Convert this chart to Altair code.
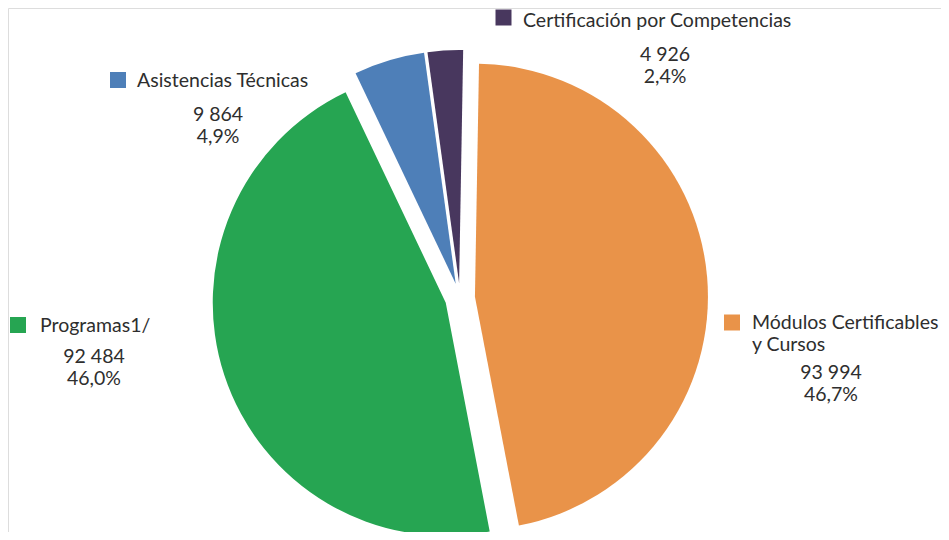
import altair as alt
import pandas as pd

# ---- data ----
categories = ["Módulos Certificables\ny Cursos", "Programas1/", "Asistencias Técnicas", "Certificación por Competencias"]
values = [93994, 92484, 9864, 4926]
colors = ["#E99349", "#26A552", "#4E7FB8", "#48375E"]

total = sum(values)
num_labels = [f"{v:,}".replace(",", " ") for v in values]
pct_labels = [f"{v / total * 100:.1f}".replace(".", ",") + "%" for v in values]

# ---- layout (chart pixel coordinates, not data) ----
W, H = 933, 524
CX, CY = 452, 290          # pie centre
R = 233                    # pie radius
EXPLODE = 15               # radial explode distance
START = 0.01745            # start angle (rad)
FONT = "Lato"
FS = 19.5
TXT = "#2e2e2e"

# legend-style annotation positions
sq_x = [724, 10, 110, 495.5]
sq_y = [314.5, 317, 72, 9.5]
name_x = [744, 32, 129, 515]
name_y = [314.5, 318, 72.5, 13]
num_x = [823, 86, 210, 657]
num_y = [365, 349, 107, 47]

df = pd.DataFrame({
    "cat": categories,
    "value": values,
    "order": list(range(len(values))),
    "num": [n + "\n" + p for n, p in zip(num_labels, pct_labels)],
    "sqx": sq_x, "sqy": sq_y,
    "nx": name_x, "ny": name_y,
    "mx": num_x, "my": num_y,
})

color_scale = alt.Scale(domain=categories, range=colors)

pie = alt.Chart(df).transform_joinaggregate(
    total="sum(value)"
).transform_window(
    cum="sum(value)", sort=[alt.SortField("order")], frame=[None, 0]
).transform_calculate(
    t0=f"{START} + 2*PI*(datum.cum - datum.value)/datum.total",
    t1=f"{START} + 2*PI*datum.cum/datum.total",
).transform_calculate(
    mid="(datum.t0 + datum.t1)/2"
).transform_calculate(
    px=f"{CX} + {EXPLODE}*sin(datum.mid)",
    py=f"{CY} - {EXPLODE}*cos(datum.mid)",
).mark_arc(radius=R).encode(
    theta=alt.Theta("t0:Q", scale=None),
    theta2="t1:Q",
    x=alt.X("px:Q", scale=None, axis=None),
    y=alt.Y("py:Q", scale=None, axis=None),
    color=alt.Color("cat:N", scale=color_scale, legend=None),
)

squares = alt.Chart(df).mark_square(size=256, opacity=1, filled=True).encode(
    x=alt.X("sqx:Q", scale=None, axis=None),
    y=alt.Y("sqy:Q", scale=None, axis=None),
    color=alt.Color("cat:N", scale=color_scale, legend=None),
)

names = alt.Chart(df).mark_text(
    align="left", baseline="middle", font=FONT, fontSize=FS, color=TXT,
    lineBreak="\n", lineHeight=22,
).encode(
    x=alt.X("nx:Q", scale=None, axis=None),
    y=alt.Y("ny:Q", scale=None, axis=None),
    text="cat:N",
)

nums = alt.Chart(df).mark_text(
    align="center", baseline="middle", font=FONT, fontSize=FS, color=TXT,
    lineBreak="\n", lineHeight=22,
).encode(
    x=alt.X("mx:Q", scale=None, axis=None),
    y=alt.Y("my:Q", scale=None, axis=None),
    text="num:N",
)

chart = alt.layer(pie, squares, names, nums).properties(
    width=W, height=H, padding=0, autosize=alt.AutoSizeParams(type="none")
).configure_view(stroke="transparent", strokeWidth=0).configure(background="transparent")

chart.save("out.html", embed_options={"renderer": "svg", "actions": False})
